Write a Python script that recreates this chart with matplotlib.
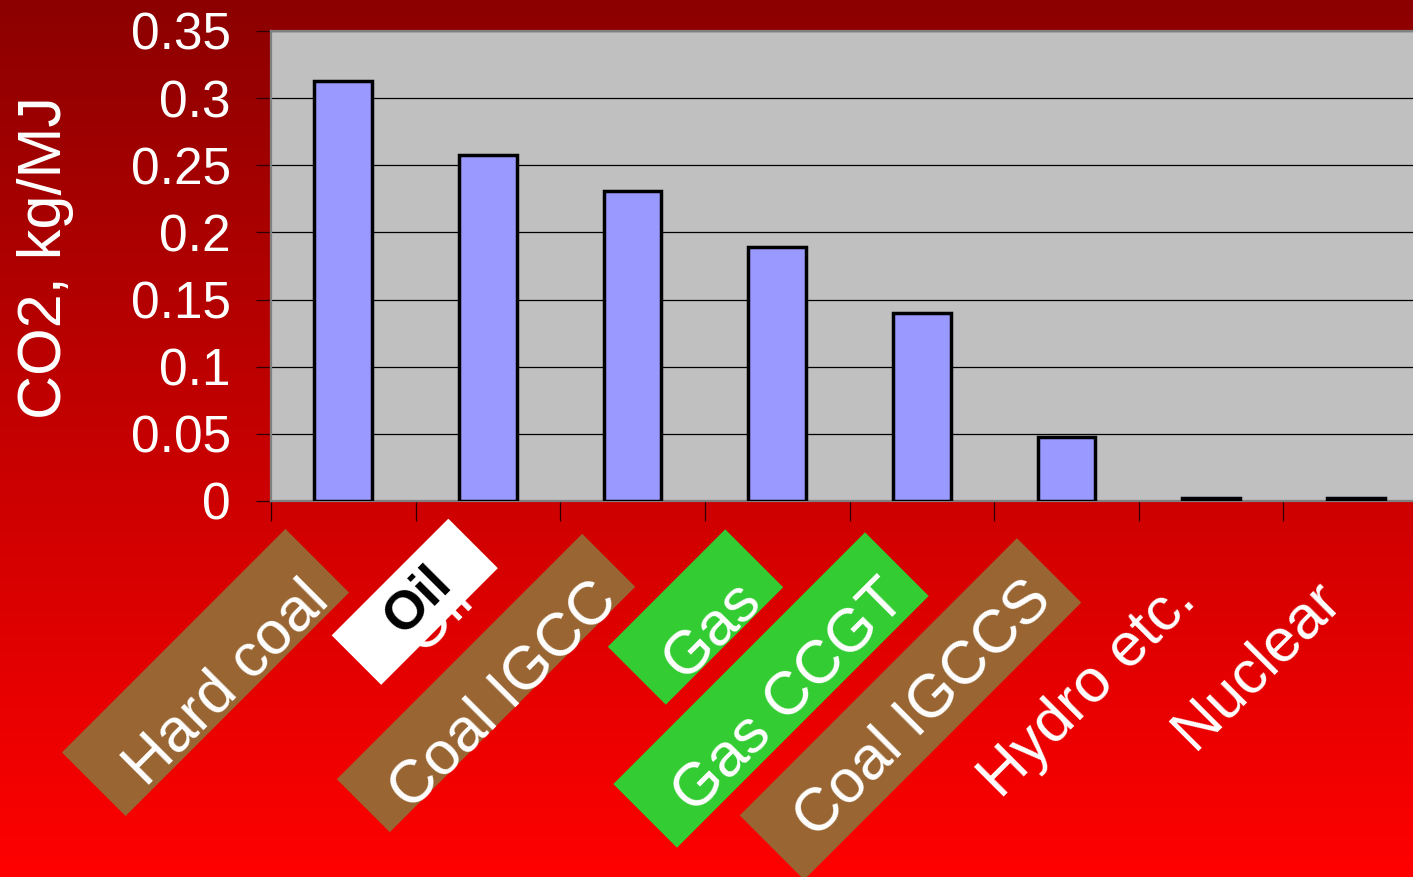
import numpy as np
import matplotlib
matplotlib.use("Agg")
import matplotlib.pyplot as plt
from matplotlib.patches import Polygon
from matplotlib.transforms import ScaledTranslation

plt.rcParams["font.family"] = ["Liberation Sans", "DejaVu Sans"]

# data
categories = ["Hard coal", "Oil", "Coal IGCC", "Gas", "Gas CCGT",
              "Coal IGCCS", "Hydro etc.", "Nuclear"]
co2 = [0.313, 0.258, 0.231, 0.189, 0.140, 0.048, 0.002, 0.002]
y_ticks = [0, 0.05, 0.1, 0.15, 0.2, 0.25, 0.3, 0.35]
y_tick_labels = ["0", "0.05", "0.1", "0.15", "0.2", "0.25", "0.3", "0.35"]

W, H = 1413, 877
BROWN, GREEN = "#996633", "#33cc33"

# highlight boxes drawn behind some labels: (centre x, centre y, length, width) in px
boxes = [
    ((205.5, 672.5), 316, 90, BROWN, -0.5),
    ((486, 683), 347, 75, BROWN, -0.5),
    ((695.5, 617), 166, 82, GREEN, -0.5),
    ((771, 690), 356, 90, GREEN, -0.5),
    ((910.5, 709), 392, 91, BROWN, -0.5),
    ((414.75, 601.75), 165, 70, "white", 1),
]


def box_corners(c, length, width):
    u = np.array([1, -1]) / np.sqrt(2)
    v = np.array([1, 1]) / np.sqrt(2)
    c = np.array(c)
    pts = [c - u * length / 2 - v * width / 2,
           c + u * length / 2 - v * width / 2,
           c + u * length / 2 + v * width / 2,
           c - u * length / 2 + v * width / 2]
    return [(p[0] / W, 1 - p[1] / H) for p in pts]


fig = plt.figure(figsize=(W / 100, H / 100), dpi=100)

# red gradient background
bg = fig.add_axes([0, 0, 1, 1], zorder=-1)
grad = np.zeros((256, 1, 3))
grad[:, 0, 0] = np.linspace(0x8c, 0xff, 256) / 255
bg.imshow(grad, aspect="auto", extent=[0, 1, 0, 1])
bg.set_axis_off()

for c, length, width, col, z in boxes:
    fig.add_artist(Polygon(box_corners(c, length, width), closed=True,
                           facecolor=col, edgecolor="none",
                           transform=fig.transFigure, zorder=z))

left, bottom = 271 / W, 1 - 501 / H
ax = fig.add_axes([left, bottom, 1157 / W, 470 / H])
ax.set_facecolor("#c0c0c0")

x = np.arange(len(categories))
ax.bar(x, co2, width=0.40, color="#9999ff", edgecolor="black", linewidth=2.5,
       zorder=3)

ax.set_xlim(-0.5, len(categories) - 0.5)
ax.set_ylim(0, 0.35)
ax.set_yticks(y_ticks)
ax.set_yticklabels(y_tick_labels)
ax.set_xticks(np.arange(-0.5, len(categories), 1))
ax.set_xticklabels([])
ax.yaxis.grid(True, color="black", linewidth=0.9)
ax.set_axisbelow(True)

ax.tick_params(axis="y", length=11, width=0.9, pad=18, labelsize=37,
               labelcolor="white", color="#300000")
ax.tick_params(axis="x", length=14.5, width=0.9, color="#300000")

for side in ["top", "left", "bottom", "right"]:
    ax.spines[side].set_color("#808080")
    ax.spines[side].set_linewidth(1.6)

ax.set_ylabel("CO2, kg/MJ", fontsize=44, color="white", va="center")
ax.yaxis.set_label_coords(-0.195, 0.517)

# rotated category labels
shift = ScaledTranslation(-0.44, -0.70, fig.dpi_scale_trans)
for i, name in enumerate(categories):
    ax.text(x[i], 0, name, transform=ax.get_xaxis_transform() + shift,
            rotation=45, rotation_mode="anchor", ha="right", va="top",
            fontsize=44, color="white", clip_on=False)

# black "Oil" overlay on white box
fig.text(418 / W, 1 - 600 / H, "Oil", rotation=45, ha="center", va="center",
         fontsize=39, fontweight="bold", color="black", zorder=3)

fig.savefig("out.png", dpi=100)
